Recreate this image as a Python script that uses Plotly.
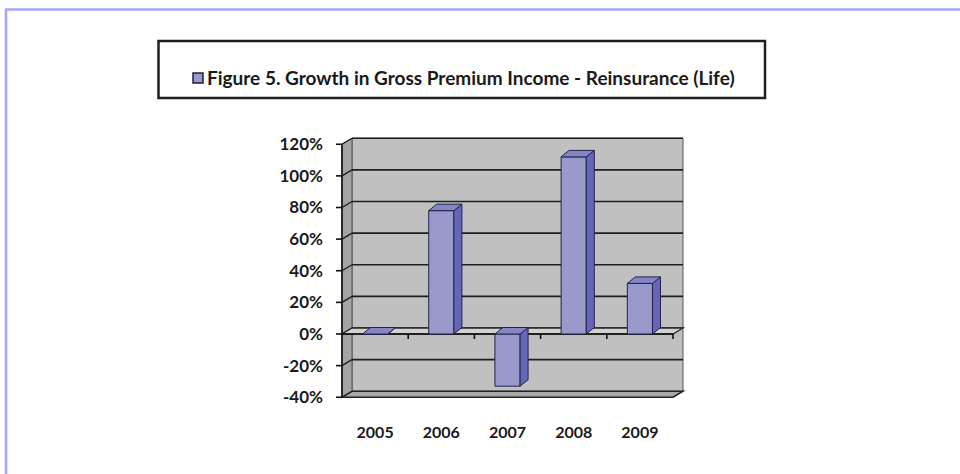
import plotly.graph_objects as go

# ---- data ----
years = ["2005", "2006", "2007", "2008", "2009"]
growth = [0, 78, -33, 112, 32]          # % growth in gross premium income
y_ticks = [-40, -20, 0, 20, 40, 60, 80, 100, 120]
y_tick_text = ["-40%", "-20%", "0%", "20%", "40%", "60%", "80%", "100%", "120%"]
series_name = "Figure 5. Growth in Gross Premium Income - Reinsurance (Life)"

W, H = 960, 474
# pixel scale of the front plane
PXX = 66.2          # px per category unit
PXY = 1.58125       # px per percent
X0PX = 342          # px of x = -0.5
Y0PX = 334          # px of y = 0
YMIN, YMAX = -40, 120

# depth offsets (walls / bars) converted from px into data units
DXW, DYW = 10 / PXX, 6 / PXY
DXB, DYB = 8 / PXX, 6.5 / PXY
BAR_W = 0.38

# plot area in px
L_PX, R_PX, T_PX, B_PX = 334, 686, 136, 401
xr = [-0.5 - (X0PX - L_PX) / PXX, -0.5 + (R_PX - X0PX) / PXX]
yr = [(Y0PX - B_PX) / PXY, (Y0PX - T_PX) / PXY]

xs = list(range(len(years)))
n = len(years)
xl, xrt = -0.5, n - 0.5

FRONT = "#9999cc"
SIDE = "#6666b8"
TOP = "#8585c8"
EDGE = "#22224a"


def poly(pts):
    return "M " + " L ".join(f"{a},{b}" for a, b in pts) + " Z"


shapes = []
# back wall
shapes.append(dict(type="rect", xref="x", yref="y", layer="below",
                   x0=xl + DXW, x1=xrt + DXW, y0=YMIN + DYW, y1=YMAX + DYW,
                   fillcolor="#c0c0c0", line=dict(color="#555555", width=1)))
# left side wall
shapes.append(dict(type="path", xref="x", yref="y", layer="below",
                   path=poly([(xl, YMIN), (xl, YMAX), (xl + DXW, YMAX + DYW), (xl + DXW, YMIN + DYW)]),
                   fillcolor="#a4a4a4", line=dict(color="#555555", width=1)))
# bottom slab
shapes.append(dict(type="path", xref="x", yref="y", layer="below",
                   path=poly([(xl, YMIN), (xrt, YMIN), (xrt + DXW, YMIN + DYW), (xl + DXW, YMIN + DYW)]),
                   fillcolor="#a8a8a8", line=dict(color="#222222", width=1.5)))
# gridlines on back wall and side wall
for v in y_ticks:
    if v in (YMIN,):
        continue
    shapes.append(dict(type="line", xref="x", yref="y", layer="below",
                       x0=xl + DXW, x1=xrt + DXW, y0=v + DYW, y1=v + DYW,
                       line=dict(color="#1e1e1e", width=1.6)))
    shapes.append(dict(type="line", xref="x", yref="y", layer="below",
                       x0=xl, x1=xl + DXW, y0=v, y1=v + DYW,
                       line=dict(color="#1e1e1e", width=1.4)))
# floor at zero
shapes.append(dict(type="path", xref="x", yref="y", layer="below",
                   path=poly([(xl, 0), (xrt, 0), (xrt + DXW, DYW), (xl + DXW, DYW)]),
                   fillcolor="#d2d2d2", line=dict(color="#2a2a2a", width=1.3)))
# front zero line with category ticks
shapes.append(dict(type="line", xref="x", yref="y", layer="below",
                   x0=xl, x1=xrt, y0=0, y1=0, line=dict(color="#111111", width=1.6)))
for i in range(n):
    b = i + 0.5
    shapes.append(dict(type="line", xref="x", yref="y", layer="below",
                       x0=b, x1=b, y0=0, y1=-5 / PXY, line=dict(color="#111111", width=1.6)))
# front-left value axis with ticks
shapes.append(dict(type="line", xref="x", yref="y", layer="below",
                   x0=xl, x1=xl, y0=YMIN, y1=YMAX, line=dict(color="#111111", width=1.6)))
for v in y_ticks:
    shapes.append(dict(type="line", xref="x", yref="y", layer="below",
                       x0=xl - 6 / PXX, x1=xl, y0=v, y1=v, line=dict(color="#111111", width=1.6)))

# bar depth faces
for x, v in zip(xs, growth):
    top, bot = max(v, 0), min(v, 0)
    xa, xb = x - BAR_W / 2, x + BAR_W / 2
    shapes.append(dict(type="path", xref="x", yref="y", layer="above",
                       path=poly([(xb, bot), (xb, top), (xb + DXB, top + DYB), (xb + DXB, bot + DYB)]),
                       fillcolor=SIDE, line=dict(color=EDGE, width=1)))
    shapes.append(dict(type="path", xref="x", yref="y", layer="above",
                       path=poly([(xa, top), (xb, top), (xb + DXB, top + DYB), (xa + DXB, top + DYB)]),
                       fillcolor=TOP, line=dict(color=EDGE, width=1)))


def px_x(p):
    return p / W


def px_y(p):
    return 1 - p / H


# outer lavender frame
shapes.append(dict(type="path", xref="paper", yref="paper", layer="above",
                   path=f"M {px_x(6)},{px_y(480)} L {px_x(6)},{px_y(9.5)} L {px_x(965)},{px_y(9.5)}",
                   line=dict(color="#a4a4ff", width=2.5)))
# legend box
shapes.append(dict(type="rect", xref="paper", yref="paper", layer="above",
                   x0=px_x(158.5), x1=px_x(765), y0=px_y(98), y1=px_y(41),
                   line=dict(color="#1e1e1e", width=2.5)))
# legend swatch
shapes.append(dict(type="rect", xref="paper", yref="paper", layer="above",
                   x0=px_x(193), x1=px_x(203), y0=px_y(83), y1=px_y(73),
                   fillcolor=FRONT, line=dict(color="#202040", width=1.5)))

fig = go.Figure()
fig.add_trace(go.Bar(
    x=xs, y=growth, width=BAR_W, name=series_name,
    marker=dict(color=FRONT, line=dict(color=EDGE, width=1)),
    showlegend=False, hoverinfo="skip",
))

fig.update_layout(
    width=W, height=H,
    margin=dict(l=0, r=0, t=0, b=0, autoexpand=False),
    paper_bgcolor="white", plot_bgcolor="rgba(0,0,0,0)",
    font=dict(family="Lato", color="#1a1a1a"),
    shapes=shapes,
    annotations=[dict(
        xref="paper", yref="paper", x=px_x(205), y=px_y(77),
        xanchor="left", yanchor="middle", showarrow=False,
        text="<b>" + series_name + "</b>",
        font=dict(family="Lato", size=19, color="#1a1a1a"),
    )],
    xaxis=dict(
        domain=[L_PX / W, R_PX / W], range=xr, automargin=False,
        tickmode="array", tickvals=xs, ticktext=years,
        showgrid=False, zeroline=False, showline=False, ticks="",
        ticklabelstandoff=20,
        tickfont=dict(family="Lato", size=16, color="#1a1a1a", weight="bold"),
    ),
    yaxis=dict(
        domain=[1 - B_PX / H, 1 - T_PX / H], range=yr, automargin=False,
        tickmode="array", tickvals=y_ticks, ticktext=y_tick_text,
        showgrid=False, zeroline=False, showline=False, ticks="",
        ticklabelstandoff=10,
        tickfont=dict(family="Lato", size=17, color="#1a1a1a", weight="bold"),
    ),
    bargap=0.6,
)

fig.write_html("out.html",
               config={"displayModeBar": False},
               post_script="document.body.style.margin='0';document.body.style.overflow='hidden';")
